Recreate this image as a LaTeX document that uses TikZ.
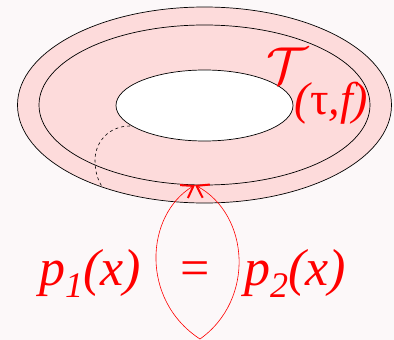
\RequirePackage{fix-cm}
\documentclass[tikz,border=0pt]{standalone}
\usepackage{fontspec}
\setmainfont{Liberation Serif}
\usetikzlibrary{arrows.meta}
\definecolor{bgc}{RGB}{252,248,249}
\definecolor{torus}{RGB}{253,219,219}
\tikzset{
  edgeline/.style={draw=black, line width=0.7pt},
  redarrow/.style={red, line width=0.6pt, -{Straight Barb[length=11pt,width=15pt,line width=2pt]}},
  redtext/.style={red, inner sep=0pt, font=\fontsize{52}{60}\selectfont\itshape},
}
\begin{document}
\begin{tikzpicture}[x=1pt,y=-1pt]
\fill[bgc] (0,0) rectangle (394,340);
\useasboundingbox (0,0) rectangle (394,340);
% torus
\fill[torus] (204.5,105) ellipse [x radius=187, y radius=98];
\draw[edgeline] (204.5,105) ellipse [x radius=187, y radius=98];
\draw[edgeline] (204.5,105) ellipse [x radius=165.5, y radius=80];
\filldraw[fill=white, edgeline] (204.5,105.5) ellipse [x radius=88.5, y radius=35.5];
% hidden meridian
\draw[black, line width=0.6pt, dash pattern=on 3pt off 3pt]
  (130,126) .. controls (108,126) and (95,143) .. (95,160)
  .. controls (95,172) and (98,181) .. (103,188);
% label
\node[red, inner sep=0pt, anchor=base west] (T) at (266,83)
  {\fontsize{52}{60}\selectfont$\mathcal{T}$\hspace{-13pt}\raisebox{-31pt}{\fontsize{46}{54}\selectfont\itshape(\upshape τ\itshape,f)}};
% equation
\node[redtext, anchor=base] (p1) at (90,285) {p\raisebox{-12pt}{\fontsize{36}{40}\selectfont 1}(x)};
\node[redtext, anchor=base, font=\fontsize{52}{60}\selectfont] (eq) at (195,285) {=};
\node[redtext, anchor=base] (p2) at (295,285) {p\raisebox{-12pt}{\fontsize{36}{40}\selectfont 2}(x)};
% arrows
\coordinate (bot) at (200,339);
\coordinate (tip) at (195,185);
\draw[redarrow] (bot) .. controls (140,300) and (145,215) .. (tip);
\draw[redarrow] (bot) .. controls (255,300) and (250,215) .. (tip);
\end{tikzpicture}
\end{document}
